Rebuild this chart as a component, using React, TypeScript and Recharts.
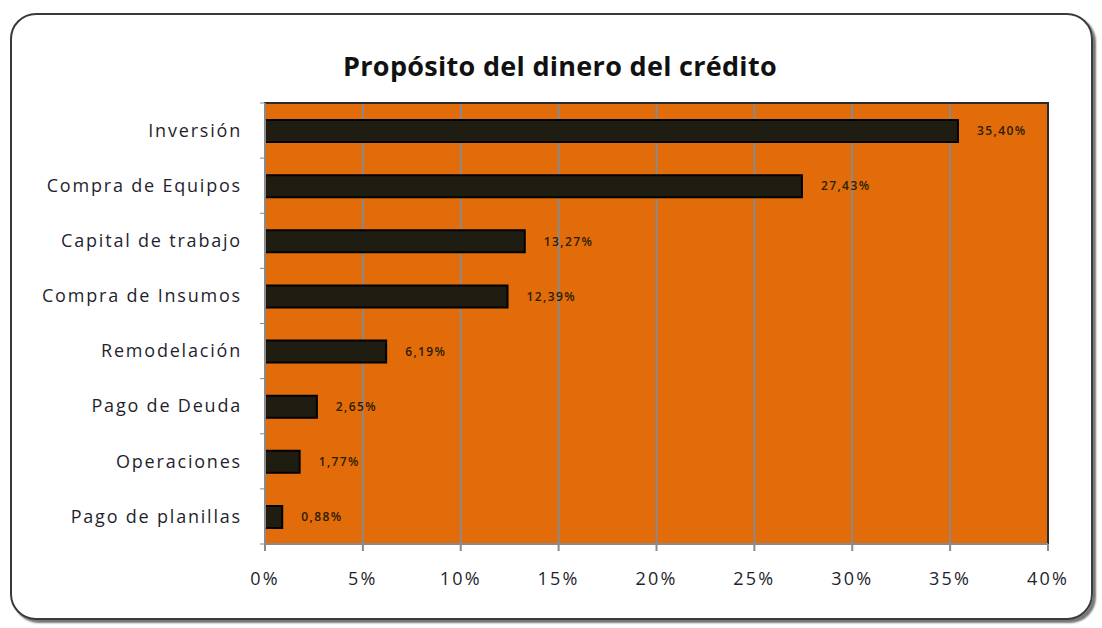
import { BarChart, Bar, XAxis, YAxis, CartesianGrid, LabelList, ReferenceArea } from 'recharts'

const categories = [
  'Inversión',
  'Compra de Equipos',
  'Capital de trabajo',
  'Compra de Insumos',
  'Remodelación',
  'Pago de Deuda',
  'Operaciones',
  'Pago de planillas',
]
const shares = [35.4, 27.43, 13.27, 12.39, 6.19, 2.65, 1.77, 0.88]
const xTicks = [0, 5, 10, 15, 20, 25, 30, 35, 40]

const data = categories.map((name, i) => ({ name, value: shares[i] }))

const fontFamily = '"Open Sans", "Noto Sans", sans-serif'
const band = (544 - 103) / categories.length

// Excel style: tick marks between categories, not on them
const CategoryTick = (props: any) => {
  const { x, y, payload, index } = props
  const last = index === categories.length - 1
  return (
    <g>
      <line x1={x + 18} x2={x + 23} y1={y - band / 2} y2={y - band / 2} stroke="#888" />
      {last && <line x1={x + 18} x2={x + 23} y1={y + band / 2} y2={y + band / 2} stroke="#888" />}
      <text x={x} y={y} dy="0.35em" textAnchor="end" fill="#1f1f2e" fontSize={18} letterSpacing={1.8} fontFamily={fontFamily}>
        {payload.value}
      </text>
    </g>
  )
}

export default function App() {
  return (
    <div style={{ position: 'absolute', left: 0, top: 0, width: 1102, height: 628, background: '#fff' }}>
      <div
        style={{
          position: 'absolute', left: 10, top: 13, width: 1083, height: 607,
          border: '2px solid #3a3a3a', borderRadius: 26, boxShadow: '3px 3px 2px #777', boxSizing: 'border-box',
        }}
      />
      <div
        style={{
          position: 'absolute', left: 0, top: 47, width: 1120, textAlign: 'center',
          fontFamily, fontWeight: 700, fontSize: 27, color: '#111', letterSpacing: 0.3,
        }}
      >
        Propósito del dinero del crédito
      </div>
      <div style={{ position: 'absolute', left: 0, top: 0 }}>
        <BarChart
          width={1102}
          height={628}
          data={data}
          layout="vertical"
          margin={{ top: 103, right: 54, bottom: 40, left: 0 }}
          barSize={22}
        >
          <CartesianGrid horizontal={false} stroke="#8a8a8a" strokeWidth={2} fill="#e26b0a" fillOpacity={1} />
          <ReferenceArea x1={0} x2={40} fill="none" stroke="#2b2b2b" strokeWidth={2} ifOverflow="extendDomain" />
          <XAxis
            type="number"
            domain={[0, 40]}
            ticks={xTicks}
            tickFormatter={(v: number) => `${v}%`}
            stroke="#8a8a8a"
            strokeWidth={2}
            tickSize={7}
            tickMargin={21}
            height={44}
            tick={{ fill: '#1f1f2e', fontSize: 18, letterSpacing: 2.2, fontFamily }}
          />
          <YAxis
            type="category"
            dataKey="name"
            width={265}
            stroke="#8a8a8a"
            strokeWidth={2}
            tickLine={false}
            tickSize={0}
            tickMargin={23}
            tick={<CategoryTick />}
          />
          <Bar dataKey="value" fill="#1f1c12" stroke="#000" strokeWidth={2} isAnimationActive={false}>
            <LabelList
              dataKey="value"
              position="right"
              offset={19}
              formatter={(v: any) => `${Number(v).toFixed(2).replace('.', ',')}%`}
              style={{ fill: '#2a2000', fontSize: 12, fontWeight: 600, letterSpacing: 1.4, fontFamily }}
            />
          </Bar>
        </BarChart>
      </div>
    </div>
  )
}
